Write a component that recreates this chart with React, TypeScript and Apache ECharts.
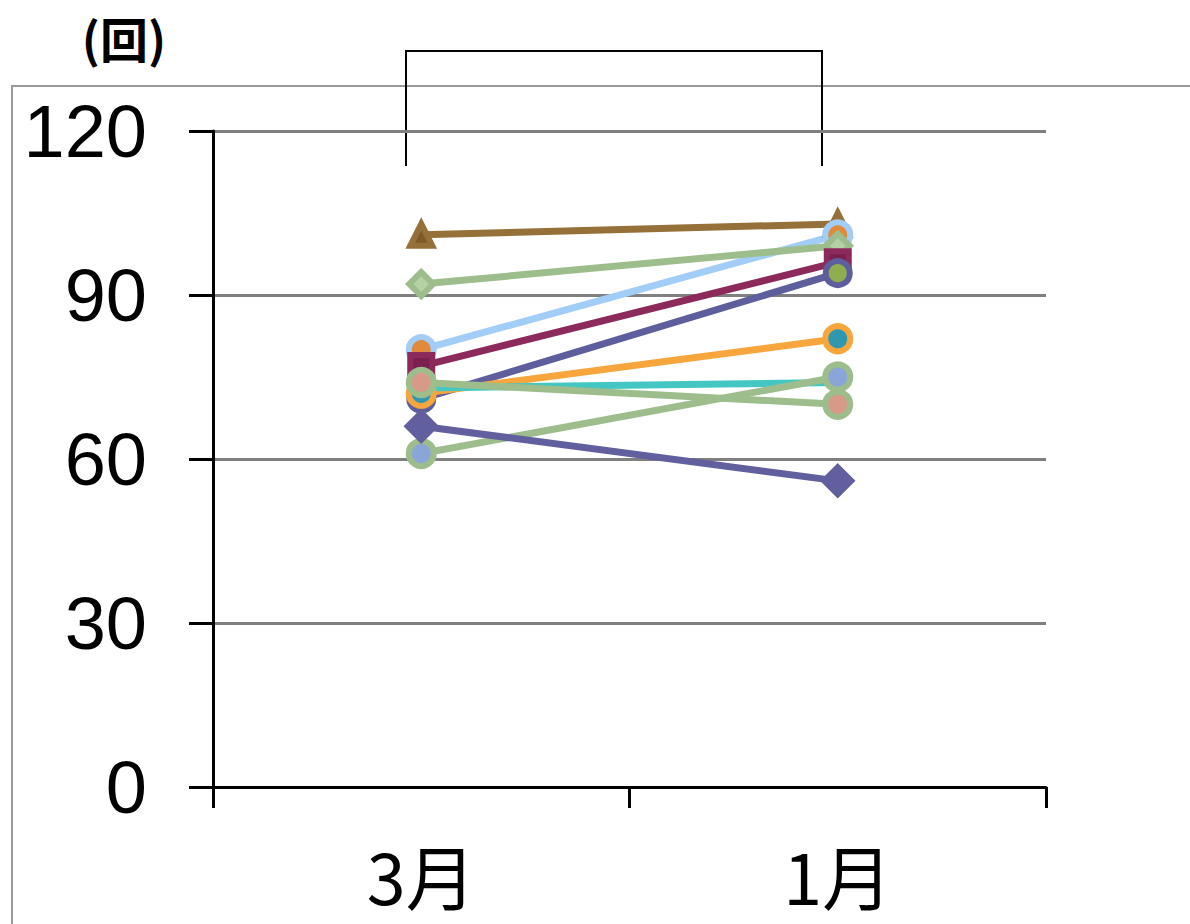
import React, { useEffect, useRef } from "react";
import * as echarts from "echarts";

const categories = ["3月", "1月"];
const yTicks = [0, 30, 60, 90, 120];
const unitLabel = "(回)";

const brownTri = [101, 103];
const lightBlueCircle = [80, 101];
const greenDiamond = [92, 99];
const maroonSquare = [77, 96];
const navyCircle = [71, 94];
const orangeCircle = [72, 82];
const tealLine = [73, 74];
const greenPinkCircle = [74, 70];
const greenBlueCircle = [61, 75];
const purpleDiamond = [66, 56];

type S = { name: string; data: number[]; line: string; center: string; symbol: string; size: number };

const seriesDefs: S[] = [
  { name: "a", data: brownTri, line: "#957038", center: "#7f5a28", symbol: "triangle", size: 22 },
  { name: "b", data: lightBlueCircle, line: "#a2cdf7", center: "#e08a3c", symbol: "circle", size: 25 },
  { name: "c", data: greenDiamond, line: "#9dbe8c", center: "#b5d2a5", symbol: "diamond", size: 24 },
  { name: "d", data: maroonSquare, line: "#8c2a5c", center: "#7a2050", symbol: "rect", size: 22 },
  { name: "e", data: navyCircle, line: "#5f5e9c", center: "#8fae50", symbol: "circle", size: 24 },
  { name: "f", data: orangeCircle, line: "#f6a63c", center: "#2f98b0", symbol: "circle", size: 25 },
  { name: "g", data: tealLine, line: "#44c7c2", center: "#44c7c2", symbol: "circle", size: 12 },
  { name: "h", data: greenPinkCircle, line: "#9dbe8c", center: "#d79a88", symbol: "circle", size: 25 },
  { name: "i", data: greenBlueCircle, line: "#9dbe8c", center: "#8aa6d8", symbol: "circle", size: 25 },
  { name: "j", data: purpleDiamond, line: "#625f9e", center: "#625f9e", symbol: "diamond", size: 27 },
];

export default function App() {
  const ref = useRef<HTMLDivElement>(null);
  useEffect(() => {
    const chart = echarts.init(ref.current!, null, { renderer: "svg" });
    chart.setOption({
      animation: false,
      backgroundColor: "#ffffff",
      grid: { left: 213, right: 144, top: 131, bottom: 137 },
      xAxis: {
        type: "category",
        data: categories,
        boundaryGap: true,
        axisLine: { lineStyle: { color: "#000", width: 3 } },
        axisTick: { show: true, length: 21, lineStyle: { color: "#000", width: 3 } },
        axisLabel: {
          fontSize: 70,
          color: "#000",
          fontFamily: "Noto Sans CJK JP",
          margin: 52,
        },
        splitLine: { show: false },
      },
      yAxis: {
        type: "value",
        min: yTicks[0],
        max: yTicks[yTicks.length - 1],
        interval: 30,
        axisLine: { show: true, lineStyle: { color: "#000", width: 3 } },
        axisTick: { show: true, inside: false, length: 24, lineStyle: { color: "#000", width: 3 } },
        axisLabel: {
          fontSize: 74,
          color: "#000",
          fontFamily: "Liberation Sans",
          margin: 66,
        },
        splitLine: { show: true, lineStyle: { color: "#808080", width: 3 } },
      },
      graphic: [
        {
          type: "rect",
          shape: { x: 12, y: 86, width: 1300, height: 1000 },
          style: { fill: "none", stroke: "#9a9a9a", lineWidth: 2 },
          z: -1,
        },
        {
          type: "text",
          x: 124,
          y: 37,
          style: {
            text: unitLabel,
            font: "bold 48px 'Noto Sans CJK JP'",
            lineHeight: 50,
            fill: "#000",
            align: "center",
            verticalAlign: "middle",
          },
        },
        {
          type: "polyline",
          shape: { points: [[406, 166], [406, 51], [822, 51], [822, 166]] },
          style: { fill: "none", stroke: "#000", lineWidth: 2 },
        },
      ],
      series: seriesDefs.map((s) => ({
        name: s.name,
        type: "line",
        data: s.data,
        symbol: s.symbol,
        symbolSize: s.size,
        showSymbol: true,
        lineStyle: { color: s.line, width: 7 },
        itemStyle: { color: s.center, borderColor: s.line, borderWidth: 6 },
      })),
    });
    return () => chart.dispose();
  }, []);
  return (
    <div
      ref={ref}
      style={{ position: "fixed", left: 0, top: 0, width: 1190, height: 924 }}
    />
  );
}
